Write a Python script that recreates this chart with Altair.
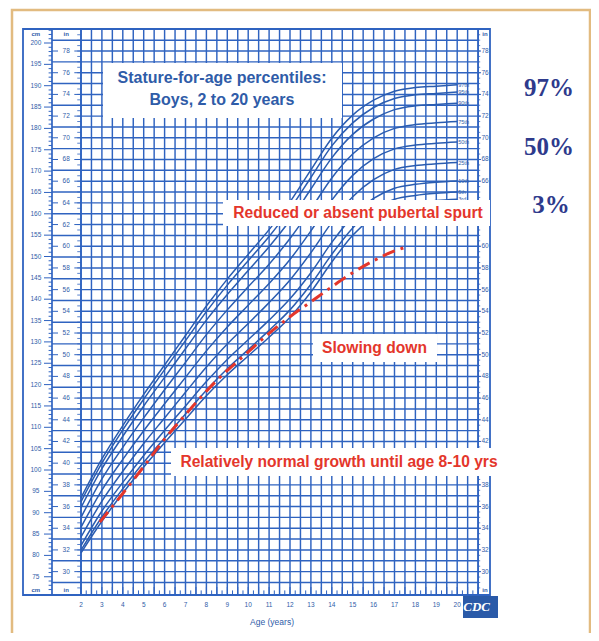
import altair as alt
import pandas as pd

# ---------------- data ----------------
ages = [2, 3, 4, 5, 6, 7, 8, 9, 10, 11, 12, 13, 14, 15, 16, 17, 18, 19, 20]
p3  = [80.6, 88.0, 94.6, 100.7, 106.4, 111.9, 117.4, 122.3, 126.7, 131.1, 135.8, 141.7, 148.7, 155.0, 159.2, 161.7, 162.7, 163.1, 163.4]
p5  = [81.2, 89.0, 95.6, 101.8, 107.5, 113.1, 118.7, 123.7, 128.2, 132.7, 137.5, 143.5, 150.5, 156.7, 161.0, 163.4, 164.3, 164.8, 165.1]
p10 = [82.3, 90.4, 97.1, 103.4, 109.3, 115.0, 120.7, 125.9, 130.5, 135.1, 140.1, 146.2, 153.3, 159.4, 163.6, 166.0, 166.9, 167.4, 167.7]
p25 = [84.3, 92.7, 99.7, 106.2, 112.2, 118.2, 124.1, 129.5, 134.3, 139.2, 144.5, 150.9, 158.0, 164.0, 168.0, 170.4, 171.3, 171.7, 172.0]
p50 = [86.6, 95.3, 102.5, 109.2, 115.5, 121.7, 127.9, 133.5, 138.6, 143.7, 149.3, 156.0, 163.2, 169.0, 172.9, 175.2, 176.1, 176.5, 176.8]
p75 = [88.9, 97.9, 105.3, 112.2, 118.8, 125.2, 131.7, 137.5, 142.9, 148.2, 154.2, 161.1, 168.4, 174.0, 177.8, 180.0, 180.9, 181.3, 181.6]
p90 = [91.2, 100.3, 107.9, 115.0, 121.7, 128.4, 135.1, 141.1, 146.7, 152.3, 158.5, 165.8, 173.1, 178.6, 182.2, 184.4, 185.3, 185.6, 185.9]
p95 = [92.6, 101.6, 109.4, 116.6, 123.5, 130.3, 137.1, 143.3, 149.0, 154.7, 161.1, 168.5, 175.9, 181.3, 184.9, 187.0, 187.9, 188.2, 188.5]
p97 = [93.5, 102.6, 110.4, 117.7, 124.6, 131.5, 138.4, 144.7, 150.5, 156.3, 162.8, 170.3, 177.7, 183.1, 186.6, 188.7, 189.6, 189.9, 190.2]
pct_names = ["3rd", "5th", "10th", "25th", "50th", "75th", "90th", "95th", "97th"]
pct_series = [p3, p5, p10, p25, p50, p75, p90, p95, p97]

red_age = [2.9, 4.0, 5.0, 5.8, 7.0, 8.5, 9.9, 11.0, 12.0, 13.0, 14.0, 15.0, 16.0, 17.0, 17.5]
red_cm  = [87.8, 94.5, 100.8, 106.0, 113.0, 121.0, 127.2, 132.0, 135.9, 139.4, 142.9, 146.2, 149.0, 151.3, 152.1]

cm_ticks = [75, 80, 85, 90, 95, 100, 105, 110, 115, 120, 125, 130, 135, 140, 145, 150, 155,
            160, 165, 170, 175, 180, 185, 190, 195, 200]
in_ticks = [30, 32, 34, 36, 38, 40, 42, 44, 46, 48, 50, 52, 54, 56, 58, 60, 62, 64, 66, 68,
            70, 72, 74, 76, 78]
in_ticks_right = [30, 32, 34, 36, 38, 42, 44, 46, 48, 50, 52, 54, 56, 58, 60, 66, 68,
                  70, 72, 74, 76, 78]
age_ticks = [2, 3, 4, 5, 6, 7, 8, 9, 10, 11, 12, 13, 14, 15, 16, 17, 18, 19, 20]

# ---------------- styling ----------------
BLUE = "#2f63c0"
CURVE = "#2a5cb0"
TXT = "#2f5ca8"
RED = "#e4362b"
NAVY = "#2e3a8c"
FONT = "Liberation Sans"

XS = alt.Scale(domain=[-1.493, 26.402], nice=False, zero=False)
YS = alt.Scale(domain=[61.827, 208.197], nice=False, zero=False)


def X(f):
    return alt.X(f, type="quantitative", scale=XS, axis=None)


def Y(f):
    return alt.Y(f, type="quantitative", scale=YS, axis=None)


# ---------------- frames ----------------
outer = alt.Chart(pd.DataFrame({"a": [0]})).mark_rect(
    fill="white", stroke="#e2bb80", strokeWidth=2.5
).encode(x=alt.value(4), x2=alt.value(582), y=alt.value(2), y2=alt.value(628))

box = alt.Chart(pd.DataFrame({"a": [0]})).mark_rect(
    fill="white", stroke=BLUE, strokeWidth=1.8
).encode(x=alt.value(15), x2=alt.value(482), y=alt.value(21), y2=alt.value(587))

BOX_TOP, BOX_BOT = 203.28, 70.73

# grid verticals every half year 2..21
vx = [2 + 0.5 * i for i in range(39)]
vgrid = alt.Chart(pd.DataFrame({"x": vx, "y1": [BOX_BOT] * len(vx), "y2": [BOX_TOP] * len(vx)})).mark_rule(
    color=BLUE, strokeWidth=1.45
).encode(x=X("x"), y=Y("y1"), y2=alt.Y2("y2"))

# grid horizontals every inch
inches = list(range(29, 80))
hg = pd.DataFrame({
    "y": [i * 2.54 for i in inches],
    "x1": [0.612 if i % 2 == 1 else 2.0 for i in inches],
    "x2": [21.0] * len(inches),
})
hgrid = alt.Chart(hg).mark_rule(color=BLUE, strokeWidth=1.45).encode(
    y=Y("y"), x=X("x1"), x2=alt.X2("x2"))

# column dividers
divs = pd.DataFrame({"x": [0.612, 2.0, 21.0], "y1": [BOX_BOT] * 3, "y2": [BOX_TOP] * 3})
dividers = alt.Chart(divs).mark_rule(color=BLUE, strokeWidth=1.7).encode(
    x=X("x"), y=Y("y1"), y2=alt.Y2("y2"))

# cm ticks
cm_minor = list(range(72, 204))
cmt = pd.DataFrame({
    "y": cm_minor,
    "x1": [0.23 if c % 5 == 0 else 0.45 for c in cm_minor],
    "x2": [0.612] * len(cm_minor),
})
cm_tick_layer = alt.Chart(cmt).mark_rule(color=BLUE, strokeWidth=1).encode(
    y=Y("y"), x=X("x1"), x2=alt.X2("x2"))

# inch dashes beside labels, and half-inch ticks on both grid edges
dash = pd.DataFrame({
    "y": [i * 2.54 for i in in_ticks] * 3,
    "x1": [0.612] * len(in_ticks) + [1.68] * len(in_ticks) + [21.0] * len(in_ticks),
    "x2": [0.90] * len(in_ticks) + [2.0] * len(in_ticks) + [21.14] * len(in_ticks),
})
dash_layer = alt.Chart(dash).mark_rule(color=BLUE, strokeWidth=1).encode(
    y=Y("y"), x=X("x1"), x2=alt.X2("x2"))

half = [28.5 + 0.5 * i for i in range(103)]
ht = pd.DataFrame({
    "y": [h * 2.54 for h in half] * 2,
    "x1": [1.82] * len(half) + [21.0] * len(half),
    "x2": [2.0] * len(half) + [21.1] * len(half),
})
half_layer = alt.Chart(ht).mark_rule(color=BLUE, strokeWidth=0.8).encode(
    y=Y("y"), x=X("x1"), x2=alt.X2("x2"))

# bottom ticks along age axis
bt = [2 + 0.25 * i for i in range(77)]
btd = pd.DataFrame({"x": bt, "y1": [BOX_BOT] * len(bt),
                    "y2": [72.6 if (i % 2 == 0) else 71.8 for i in range(len(bt))]})
bottom_ticks = alt.Chart(btd).mark_rule(color=BLUE, strokeWidth=1).encode(
    x=X("x"), y=Y("y1"), y2=alt.Y2("y2"))

# ---------------- axis labels ----------------
cm_lab = alt.Chart(pd.DataFrame({"y": cm_ticks, "t": [str(c) for c in cm_ticks],
                                 "x": [-0.16] * len(cm_ticks)})).mark_text(
    font=FONT, fontSize=6.5, color=TXT, baseline="middle", align="center"
).encode(x=X("x"), y=Y("y"), text="t:N")

in_lab_df = pd.DataFrame({
    "y": [i * 2.54 for i in in_ticks] + [i * 2.54 for i in in_ticks_right],
    "t": [str(i) for i in in_ticks] + [str(i) for i in in_ticks_right],
    "x": [1.29] * len(in_ticks) + [21.33] * len(in_ticks_right),
})
in_lab = alt.Chart(in_lab_df).mark_text(
    font=FONT, fontSize=6.5, color=TXT, baseline="middle", align="center"
).encode(x=X("x"), y=Y("y"), text="t:N")

unit_df = pd.DataFrame({
    "x": [-0.16, 1.29, 21.33, -0.16, 1.29, 21.33],
    "y": [202.2, 202.2, 202.2, 71.8, 71.8, 71.8],
    "t": ["cm", "in", "in", "cm", "in", "in"],
})
unit_lab = alt.Chart(unit_df).mark_text(
    font=FONT, fontSize=6, color=TXT, baseline="middle", align="center", fontWeight="bold"
).encode(x=X("x"), y=Y("y"), text="t:N")

age_lab = alt.Chart(pd.DataFrame({"x": age_ticks, "t": [str(a) for a in age_ticks],
                                  "y": [68.4] * len(age_ticks)})).mark_text(
    font=FONT, fontSize=6.5, color=TXT, baseline="middle", align="center"
).encode(x=X("x"), y=Y("y"), text="t:N")

age_title = alt.Chart(pd.DataFrame({"x": [11.14], "y": [64.5], "t": ["Age (years)"]})).mark_text(
    font=FONT, fontSize=8.5, color=TXT, baseline="middle", align="center"
).encode(x=X("x"), y=Y("y"), text="t:N")

logo = alt.Chart(pd.DataFrame({"a": [0]})).mark_rect(fill="#2a5aa8").encode(
    x=alt.value(455), x2=alt.value(490), y=alt.value(588), y2=alt.value(610))
logo_t = alt.Chart(pd.DataFrame({"x": [20.93], "y": [67.9], "t": ["CDC"]})).mark_text(
    font="Liberation Serif", fontSize=13, fontWeight="bold", fontStyle="italic",
    color="white", baseline="middle", align="center"
).encode(x=X("x"), y=Y("y"), text="t:N")

# ---------------- curves ----------------
rows = []
for name, ser in zip(pct_names, pct_series):
    for a, v in zip(ages, ser):
        rows.append({"pct": name, "age": a, "cm": v})
cdf = pd.DataFrame(rows)
curves = alt.Chart(cdf).mark_line(color=CURVE, strokeWidth=1.5, interpolate="monotone").encode(
    x=X("age"), y=Y("cm"), detail="pct:N")

end_df = pd.DataFrame({"pct": pct_names, "cm": [s[-1] for s in pct_series],
                       "x": [20.05] * len(pct_names)})
end_lab = alt.Chart(end_df).mark_text(
    font=FONT, fontSize=5.5, color=TXT, baseline="middle", align="left"
).encode(x=X("x"), y=Y("cm"), text="pct:N")

red = alt.Chart(pd.DataFrame({"age": red_age, "cm": red_cm})).mark_line(
    color=RED, strokeWidth=3, strokeDash=[13, 6, 3, 6], interpolate="monotone"
).encode(x=X("age"), y=Y("cm"))

# ---------------- annotation boxes & texts ----------------
boxes_px = [(95, 334, 55, 110), (215, 482, 192, 218), (305, 429, 326, 354), (163, 493, 440, 468)]
box_layers = [
    alt.Chart(pd.DataFrame({"a": [0]})).mark_rect(fill="white").encode(
        x=alt.value(b[0]), x2=alt.value(b[1]), y=alt.value(b[2]), y2=alt.value(b[3]))
    for b in boxes_px
]

title_df = pd.DataFrame({"x": [8.746, 8.746], "y": [191.8, 186.65],
                         "t": ["Stature-for-age percentiles:", "Boys, 2 to 20 years"]})
title_t = alt.Chart(title_df).mark_text(
    font=FONT, fontSize=16, fontWeight="bold", color=TXT, baseline="middle", align="center"
).encode(x=X("x"), y=Y("y"), text="t:N")

ann_df = pd.DataFrame({
    "x": [15.254, 16.043, 14.344],
    "y": [160.19, 128.57, 101.87],
    "t": ["Reduced or absent pubertal spurt", "Slowing down",
          "Relatively normal growth until age 8-10 yrs"],
})
ann_t = alt.Chart(ann_df).mark_text(
    font=FONT, fontSize=15.6, fontWeight="bold", color=RED, baseline="middle", align="center"
).encode(x=X("x"), y=Y("y"), text="t:N")

pc_df = pd.DataFrame({"x": [24.39, 24.39, 24.49], "y": [189.46, 175.64, 162.06],
                      "t": ["97%", "50%", "3%"]})
pc_t = alt.Chart(pc_df).mark_text(
    font="Liberation Serif", fontSize=25, fontWeight="bold", color=NAVY,
    baseline="middle", align="center"
).encode(x=X("x"), y=Y("y"), text="t:N")

chart = alt.layer(
    outer, box, vgrid, hgrid, dividers, cm_tick_layer, dash_layer, half_layer, bottom_ticks,
    cm_lab, in_lab, unit_lab, age_lab, age_title, logo, logo_t,
    curves, end_lab, red, *box_layers, title_t, ann_t, pc_t
).properties(
    width=583, height=625, padding=0, autosize="none", background="white"
).configure_view(stroke=None)

chart.save("out.html", embed_options={"renderer": "svg", "actions": False})
